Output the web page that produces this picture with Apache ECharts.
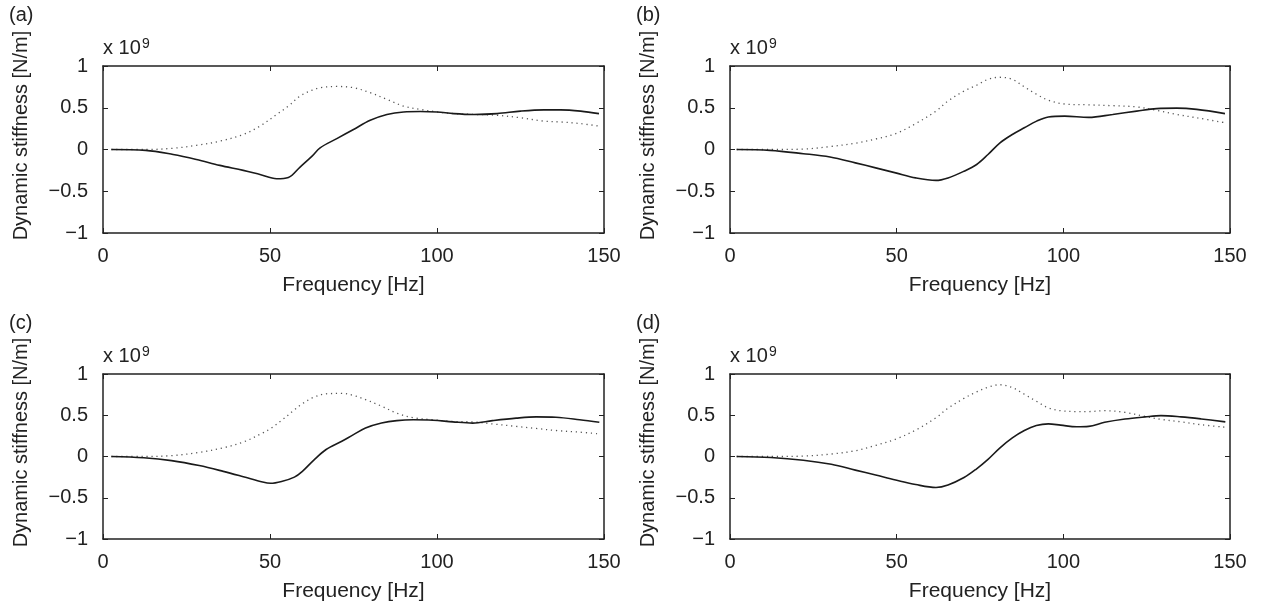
<!DOCTYPE html>
<html>
<head>
<meta charset="utf-8">
<script src="https://cdn.jsdelivr.net/npm/echarts@6/dist/echarts.min.js"></script>
<style>
html,body{margin:0;padding:0;background:#fff;}
#chart{width:1261px;height:610px;}
</style>
</head>
<body>
<div id="chart"></div>
<script>
// ---- data (frequency in Hz, stiffness in units of 1e9 N/m) ----
var panelLabels = ['(a)', '(b)', '(c)', '(d)'];
var xTicks = [0, 50, 100, 150];
var yTicks = [-1, -0.5, 0, 0.5, 1];

var freqA = [2.5, 12.8, 21, 28, 35, 42, 47, 52, 55.5, 59, 62.6, 65, 70, 75, 80, 85, 90, 95, 100, 105, 111, 118, 125, 132, 137, 143, 148.5];
var solidA = [0, -0.01, -0.06, -0.12, -0.19, -0.25, -0.30, -0.35, -0.335, -0.21, -0.08, 0.02, 0.13, 0.24, 0.35, 0.42, 0.45, 0.455, 0.45, 0.43, 0.42, 0.43, 0.46, 0.475, 0.475, 0.46, 0.43];
var dottedA = [0, 0.0, 0.015, 0.05, 0.10, 0.18, 0.28, 0.42, 0.52, 0.64, 0.71, 0.74, 0.755, 0.74, 0.68, 0.60, 0.52, 0.48, 0.45, 0.43, 0.42, 0.41, 0.38, 0.34, 0.33, 0.31, 0.28];

var freqB = [2, 12, 22, 30, 37.6, 43.7, 49.7, 55.7, 61.8, 65.4, 70.2, 74, 77.4, 81, 84.7, 88.3, 92, 95.5, 100.4, 107.6, 114.8, 122, 128, 134, 140, 148.5];
var solidB = [0, -0.01, -0.05, -0.09, -0.16, -0.22, -0.28, -0.34, -0.37, -0.34, -0.26, -0.18, -0.06, 0.08, 0.18, 0.26, 0.34, 0.39, 0.40, 0.385, 0.42, 0.46, 0.49, 0.495, 0.48, 0.43];
var dottedB = [0, 0, 0.005, 0.035, 0.075, 0.125, 0.19, 0.31, 0.46, 0.58, 0.70, 0.77, 0.84, 0.865, 0.84, 0.75, 0.66, 0.59, 0.545, 0.535, 0.525, 0.51, 0.47, 0.42, 0.38, 0.32];

var freqC = [2.5, 12.2, 20.5, 28.8, 36, 42, 47.8, 50.2, 53.7, 57.3, 59.7, 63.2, 66.8, 71.5, 75, 78.6, 83.4, 88, 92.9, 98.8, 104.7, 110.7, 116.6, 123.7, 129.7, 135.6, 142.7, 148.6];
var solidC = [0, -0.016, -0.05, -0.11, -0.18, -0.245, -0.31, -0.325, -0.30, -0.25, -0.18, -0.04, 0.085, 0.185, 0.265, 0.345, 0.405, 0.435, 0.445, 0.44, 0.42, 0.405, 0.435, 0.465, 0.48, 0.475, 0.445, 0.415];
var dottedC = [0, 0, 0.01, 0.05, 0.105, 0.175, 0.285, 0.34, 0.445, 0.565, 0.64, 0.72, 0.76, 0.765, 0.74, 0.69, 0.61, 0.525, 0.47, 0.445, 0.425, 0.42, 0.395, 0.365, 0.34, 0.315, 0.295, 0.275];

var freqD = [2, 12.3, 22, 30.4, 37.6, 43.7, 49.7, 55.7, 61.8, 65.4, 70.2, 73.8, 77.4, 81, 84.7, 88.3, 91.9, 95.5, 99.2, 104, 107.6, 112.4, 118.5, 124.5, 129.3, 135.3, 141.4, 148.6];
var solidD = [0, -0.012, -0.045, -0.095, -0.165, -0.225, -0.285, -0.34, -0.375, -0.345, -0.255, -0.155, -0.035, 0.105, 0.225, 0.315, 0.375, 0.395, 0.38, 0.36, 0.365, 0.415, 0.455, 0.48, 0.495, 0.48, 0.455, 0.42];
var dottedD = [0, 0, 0.005, 0.03, 0.07, 0.135, 0.21, 0.32, 0.47, 0.585, 0.705, 0.78, 0.84, 0.87, 0.835, 0.755, 0.67, 0.59, 0.555, 0.545, 0.545, 0.555, 0.535, 0.485, 0.45, 0.42, 0.385, 0.355];

var panels = [
  {freq: freqA, solid: solidA, dotted: dottedA},
  {freq: freqB, solid: solidB, dotted: dottedB},
  {freq: freqC, solid: solidC, dotted: dottedC},
  {freq: freqD, solid: solidD, dotted: dottedD}
];

// ---- layout ----
var FONT = '"Liberation Sans", Arial, Helvetica, sans-serif';
var INK = '#222';
var grids = [
  {left: 103, top: 66, width: 501, height: 167},
  {left: 730, top: 66, width: 500, height: 167},
  {left: 103, top: 374, width: 501, height: 165},
  {left: 730, top: 374, width: 500, height: 165}
];

function zip(xs, ys) { return xs.map(function (x, i) { return [x, ys[i]]; }); }
function fmtY(v) { return v < 0 ? '\u2212' + Math.abs(v) : String(v); }

var xAxes = [], yAxes = [], series = [], graphics = [];
grids.forEach(function (g, i) {
  var common = {
    gridIndex: i, type: 'value',
    splitLine: {show: false},
    axisLine: {show: true, onZero: false, lineStyle: {color: INK, width: 1.5}},
    axisTick: {show: true, inside: true, length: 5, lineStyle: {color: INK, width: 1}}
  };
  xAxes.push(Object.assign({}, common, {
    position: 'bottom', min: xTicks[0], max: xTicks[xTicks.length - 1], interval: 50,
    name: 'Frequency [Hz]', nameLocation: 'middle', nameGap: 42,
    nameTextStyle: {fontFamily: FONT, fontSize: 21, color: INK},
    axisLabel: {fontFamily: FONT, fontSize: 20, color: INK, margin: 13}
  }));
  xAxes.push(Object.assign({}, common, {
    position: 'top', min: xTicks[0], max: xTicks[xTicks.length - 1], interval: 50,
    axisLabel: {show: false}
  }));
  yAxes.push(Object.assign({}, common, {
    position: 'left', min: yTicks[0], max: yTicks[yTicks.length - 1], interval: 0.5,
    axisLabel: {fontFamily: FONT, fontSize: 20, color: INK, margin: 15, formatter: fmtY}
  }));
  yAxes.push(Object.assign({}, common, {
    position: 'right', min: yTicks[0], max: yTicks[yTicks.length - 1], interval: 0.5,
    axisLabel: {show: false}
  }));
  var p = panels[i];
  series.push({
    type: 'line', xAxisIndex: 2 * i, yAxisIndex: 2 * i,
    data: zip(p.freq, p.dotted), showSymbol: false, smooth: 0.35,
    lineStyle: {color: '#555', width: 1.3, type: [1.2, 3.8]}, silent: true
  });
  series.push({
    type: 'line', xAxisIndex: 2 * i, yAxisIndex: 2 * i,
    data: zip(p.freq, p.solid), showSymbol: false, smooth: 0.35,
    lineStyle: {color: '#1a1a1a', width: 1.6}, silent: true
  });
  // panel letter
  graphics.push({type: 'text', left: g.left - 94, top: g.top - 61,
    style: {text: panelLabels[i], font: '20px ' + FONT, fill: INK}});
  // y axis title
  graphics.push({type: 'text', x: g.left - 82, y: g.top + g.height / 2 - 14, rotation: Math.PI / 2,
    style: {text: 'Dynamic stiffness [N/m]', font: '20px ' + FONT, fill: INK,
      textAlign: 'center', textVerticalAlign: 'middle'}});
  // exponent
  graphics.push({type: 'text', x: g.left, y: g.top - 8,
    style: {text: 'x 10', font: '20px ' + FONT, fill: INK, textAlign: 'left', textVerticalAlign: 'bottom'}});
  graphics.push({type: 'text', x: g.left + 39, y: g.top - 15,
    style: {text: '9', font: '14px ' + FONT, fill: INK, textAlign: 'left', textVerticalAlign: 'bottom'}});
});

var chart = echarts.init(document.getElementById('chart'), null, {renderer: 'canvas'});
chart.setOption({
  animation: false,
  backgroundColor: '#fff',
  grid: grids,
  xAxis: xAxes,
  yAxis: yAxes,
  series: series,
  graphic: graphics
});
</script>
</body>
</html>
